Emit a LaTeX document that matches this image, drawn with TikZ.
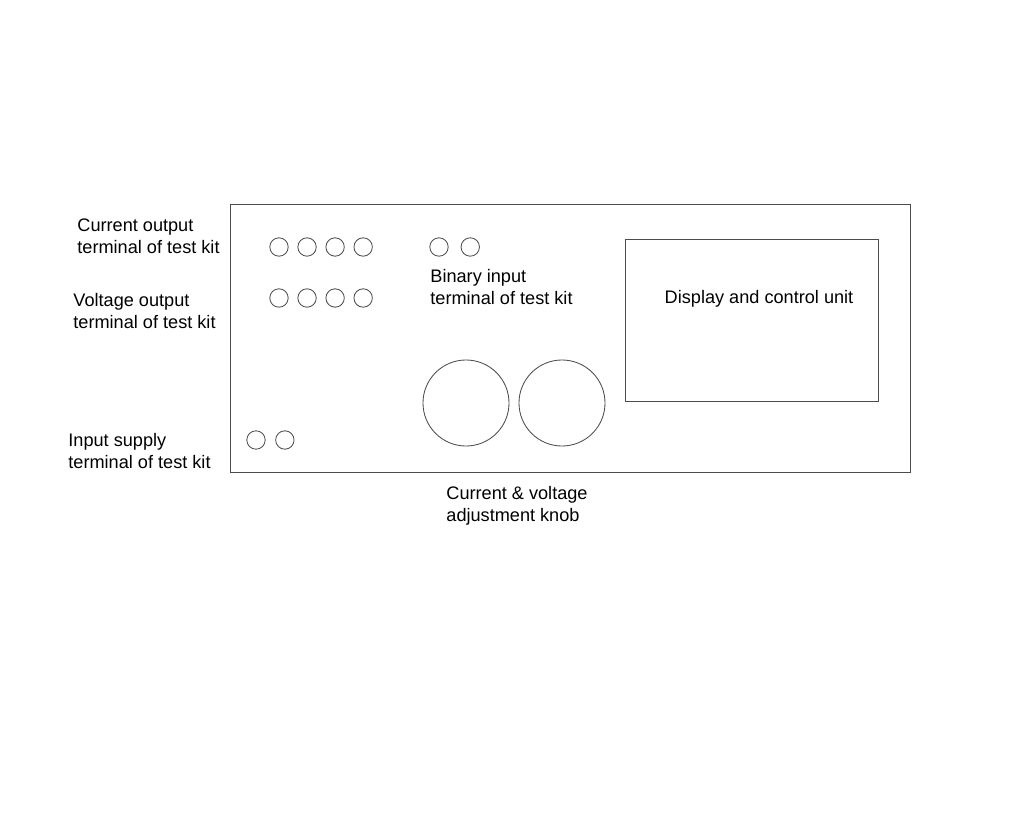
\documentclass[tikz,border=0pt]{standalone}
\usepackage{fontspec}
\setmainfont{Liberation Sans}
\usetikzlibrary{positioning}
\begin{document}
\begin{tikzpicture}[x=0.025cm,y=-0.025cm,semithick,node distance=0.22cm,
	term/.style={draw=black!70,circle,inner sep=0pt,minimum size=0.46cm},
	knob/.style={draw=black!70,circle,inner sep=0pt,minimum size=2.15cm},
	txt/.style={align=left,inner sep=0pt,font=\fontsize{12.9}{15.6}\selectfont}]

		\useasboundingbox (0,0) rectangle (1024,819);

		\node(panel) [draw=black!70, line width=0.5pt, minimum width=17cm, minimum height=6.7cm, inner sep=0pt] at (570,338) {};
		\node(disp) [draw=black!70, line width=0.5pt, minimum width=6.325cm, minimum height=4.05cm, inner sep=0pt] at (751.5,320) {};

		\node(i_1) [term] at (279,247) {};
		\node(i_2) [term, right = of i_1] {};
		\node(i_3) [term, right = of i_2] {};
		\node(i_4) [term, right = of i_3] {};

		\node(v_1) [term] at (279,298) {};
		\node(v_2) [term, right = of v_1] {};
		\node(v_3) [term, right = of v_2] {};
		\node(v_4) [term, right = of v_3] {};

		\node(b_1) [term] at (439,247) {};
		\node(b_2) [term, right = 0.3cm of b_1] {};

		\node(s_1) [term] at (256,440) {};
		\node(s_2) [term, right = 0.24cm of s_1] {};

		\node(k_1) [knob] at (466,403) {};
		\node(k_2) [knob] at (562,403) {};

		\node(l_i) [txt, anchor=west] at (77,236) {Current output\\terminal of test kit};
		\node(l_v) [txt, anchor=west] at (73,311) {Voltage output\\terminal of test kit};
		\node(l_s) [txt, anchor=west] at (68,451) {Input supply\\terminal of test kit};
		\node(l_b) [txt, anchor=west] at (430,287) {Binary input\\terminal of test kit};
		\node(l_d) [txt] at (759,299) {Display and control unit};
		\node(l_k) [txt, anchor=west] at (446,506) {Current \& voltage\\adjustment knob};

	\end{tikzpicture}
\end{document}
